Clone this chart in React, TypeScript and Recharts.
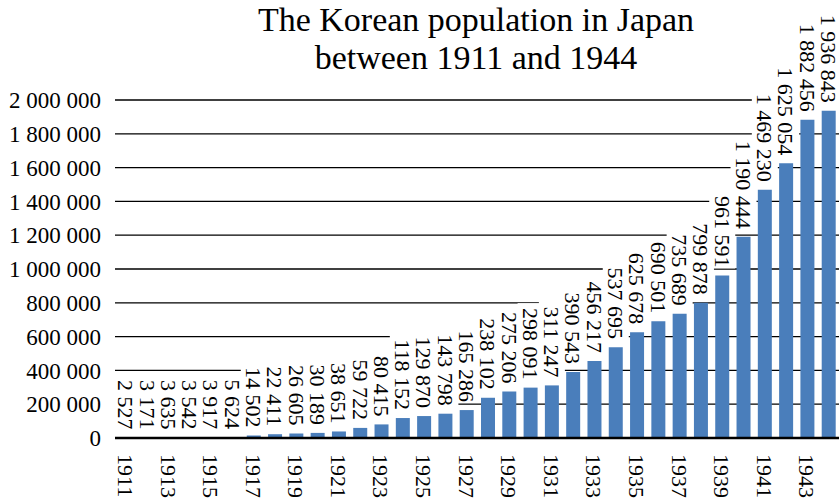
import React from 'react';
import { BarChart, Bar, XAxis, YAxis, CartesianGrid } from 'recharts';

const years = [
  '1911', '1912', '1913', '1914', '1915', '1916', '1917', '1918', '1919', '1920',
  '1921', '1922', '1923', '1924', '1925', '1926', '1927', '1928', '1929', '1930',
  '1931', '1932', '1933', '1934', '1935', '1936', '1937', '1938', '1939', '1940',
  '1941', '1942', '1943', '1944',
];

const population = [
  2527, 3171, 3635, 3542, 3917, 5624, 14502, 22411, 26605, 30189,
  38651, 59722, 80415, 118152, 129870, 143798, 165286, 238102, 275206, 298091,
  311247, 390543, 456217, 537695, 625678, 690501, 735689, 799878, 961591, 1190444,
  1469230, 1625054, 1882456, 1936843,
];

const yTicks = [0, 200000, 400000, 600000, 800000, 1000000, 1200000, 1400000, 1600000, 1800000, 2000000];

const titleLines = ['The Korean population in Japan', 'between 1911 and 1944'];

const data = years.map((year, i) => ({ year, population: population[i] }));

const FONT = "'Liberation Serif', Tinos, 'Times New Roman', Times, 'DejaVu Serif', serif";
const BAR_COLOR = '#4A7EBB';

const fmt = (v: number) => String(v).replace(/\B(?=(\d{3})+(?!\d))/g, ' ');

const LABEL_SIZE = 22;
const GAP = 8;

const textLen = (s: string, size: number) => {
  let em = 0;
  for (const ch of s) em += ch === ' ' ? 0.25 : 0.5;
  return em * size;
};

const DataLabel = (props: any) => {
  const { x, y, width, value } = props;
  if (x == null || y == null) return null;
  const cx = Number(x) + Number(width) / 2;
  const endY = Number(y) - GAP;
  const s = fmt(Number(value));
  const len = textLen(s, LABEL_SIZE);
  return (
    <g>
      <rect x={cx - 13} y={endY - len - 5} width={26} height={len + 6} fill="#fff" />
      <text
        x={cx}
        y={endY}
        transform={`rotate(90 ${cx} ${endY})`}
        textAnchor="end"
        dy="0.35em"
        style={{ fontFamily: FONT, fontSize: LABEL_SIZE }}
        fill="#000"
      >
        {s}
      </text>
    </g>
  );
};

const XTick = (props: any) => {
  const { x, y, payload } = props;
  return (
    <text
      x={x}
      y={y}
      transform={`rotate(90 ${x} ${y})`}
      textAnchor="start"
      dy="0.35em"
      style={{ fontFamily: FONT, fontSize: 22 }}
      fill="#000"
    >
      {payload.value}
    </text>
  );
};

export default function App() {
  return (
    <div style={{ position: 'absolute', left: 0, top: 0, width: 839, height: 500, background: '#fff', fontFamily: FONT }}>
      <div
        style={{
          position: 'absolute',
          left: 76,
          top: 1,
          width: 800,
          textAlign: 'center',
          fontFamily: FONT,
          fontSize: 34,
          lineHeight: '38px',
          color: '#000',
        }}
      >
        {titleLines.map((t) => (
          <div key={t}>{t}</div>
        ))}
      </div>
      <BarChart
        width={839}
        height={500}
        data={data}
        margin={{ top: 100, right: 0, bottom: 0, left: 0 }}
        barSize={14}
        style={{ fontFamily: FONT }}
      >
        <CartesianGrid vertical={false} stroke="#000" strokeWidth={1.3} />
        <XAxis
          dataKey="year"
          interval={1}
          height={62}
          tickLine={false}
          tickSize={0}
          tickMargin={16}
          axisLine={{ stroke: '#000', strokeWidth: 2.3 }}
          tick={<XTick />}
        />
        <YAxis
          width={115}
          domain={[0, 2000000]}
          ticks={yTicks}
          tickFormatter={fmt}
          axisLine={false}
          tickLine={false}
          tickSize={0}
          tickMargin={14}
          tick={{ fontSize: 23, fill: '#000', style: { fontFamily: FONT } }}
        />
        <Bar
          dataKey="population"
          fill={BAR_COLOR}
          isAnimationActive={false}
          label={<DataLabel />}
        />
      </BarChart>
    </div>
  );
}
